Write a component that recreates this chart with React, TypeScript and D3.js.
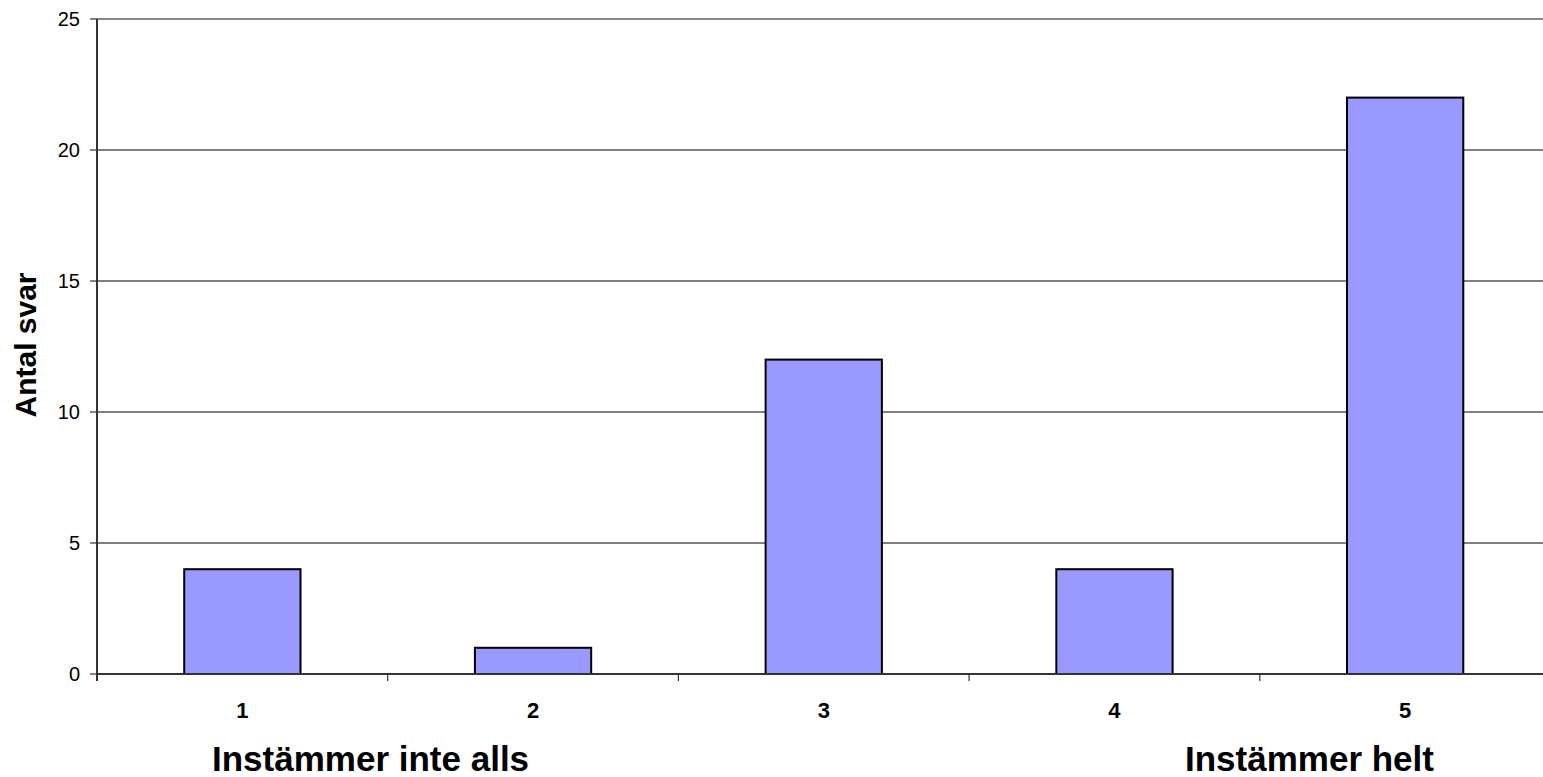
import React from "react";
import * as d3 from "d3";

// Survey response counts per agreement level
const categories: string[] = ["1", "2", "3", "4", "5"];
const counts: number[] = [4, 1, 12, 4, 22];
const yTicks: number[] = [0, 5, 10, 15, 20, 25];
const yAxisTitle = "Antal svar";
const lowEndLabel = "Instämmer inte alls";
const highEndLabel = "Instämmer helt";

const W = 1543;
const H = 777;
const left = 97;
const right = 1550.5;
const top = 19;
const bottom = 674;
const font = "Arial, 'Liberation Sans', Helvetica, sans-serif";

export default function App() {
  const x = d3
    .scaleBand<string>()
    .domain(categories)
    .range([left, right])
    .paddingInner(0.6)
    .paddingOuter(0.3);
  const y = d3.scaleLinear().domain([0, 25]).range([bottom, top]);
  const step = x.step();
  const boundaries = d3.range(categories.length + 1).map((i) => left + i * step);

  return (
    <svg
      width={W}
      height={H}
      style={{ position: "absolute", left: 0, top: 0, background: "#fff" }}
      fontFamily={font}
    >
      {/* horizontal gridlines */}
      {yTicks
        .filter((t) => t > 0 && t < 25)
        .map((t) => (
          <line key={"g" + t} x1={left} x2={W} y1={y(t)} y2={y(t)} stroke="#000" strokeWidth={1} />
        ))}
      {/* top frame */}
      <line x1={left} x2={W} y1={y(25)} y2={y(25)} stroke="#888" strokeWidth={2} />

      {/* bars */}
      {categories.map((c, i) => (
        <rect
          key={"b" + c}
          x={x(c)}
          y={y(counts[i])}
          width={x.bandwidth()}
          height={y(0) - y(counts[i])}
          fill="#9999FF"
          stroke="#000"
          strokeWidth={2}
        />
      ))}

      {/* y axis */}
      <line x1={left} x2={left} y1={top} y2={bottom + 7} stroke="#333" strokeWidth={2} />
      {yTicks.map((t) => (
        <g key={"yt" + t}>
          <line x1={left - 7} x2={left} y1={y(t)} y2={y(t)} stroke="#333" strokeWidth={1.2} />
          <text x={80} y={y(t)} dy="0.36em" textAnchor="end" fontSize={20} fill="#000">
            {t}
          </text>
        </g>
      ))}

      {/* x axis */}
      <line x1={left} x2={W} y1={bottom} y2={bottom} stroke="#333" strokeWidth={2} />
      {boundaries.map((bx, i) => (
        <line key={"xt" + i} x1={bx} x2={bx} y1={bottom} y2={bottom + 7} stroke="#333" strokeWidth={1.2} />
      ))}
      {categories.map((c) => (
        <text
          key={"xl" + c}
          x={(x(c) as number) + x.bandwidth() / 2}
          y={718}
          textAnchor="middle"
          fontSize={22}
          fontWeight="bold"
          fill="#000"
        >
          {c}
        </text>
      ))}

      {/* axis titles */}
      <text
        transform="translate(36,345) rotate(-90)"
        textAnchor="middle"
        fontSize={30}
        fontWeight="bold"
        fill="#000"
      >
        {yAxisTitle}
      </text>
      <text x={212} y={771} fontSize={35} fontWeight="bold" fill="#000">
        {lowEndLabel}
      </text>
      <text x={1185} y={771} fontSize={35} fontWeight="bold" fill="#000">
        {highEndLabel}
      </text>
    </svg>
  );
}
